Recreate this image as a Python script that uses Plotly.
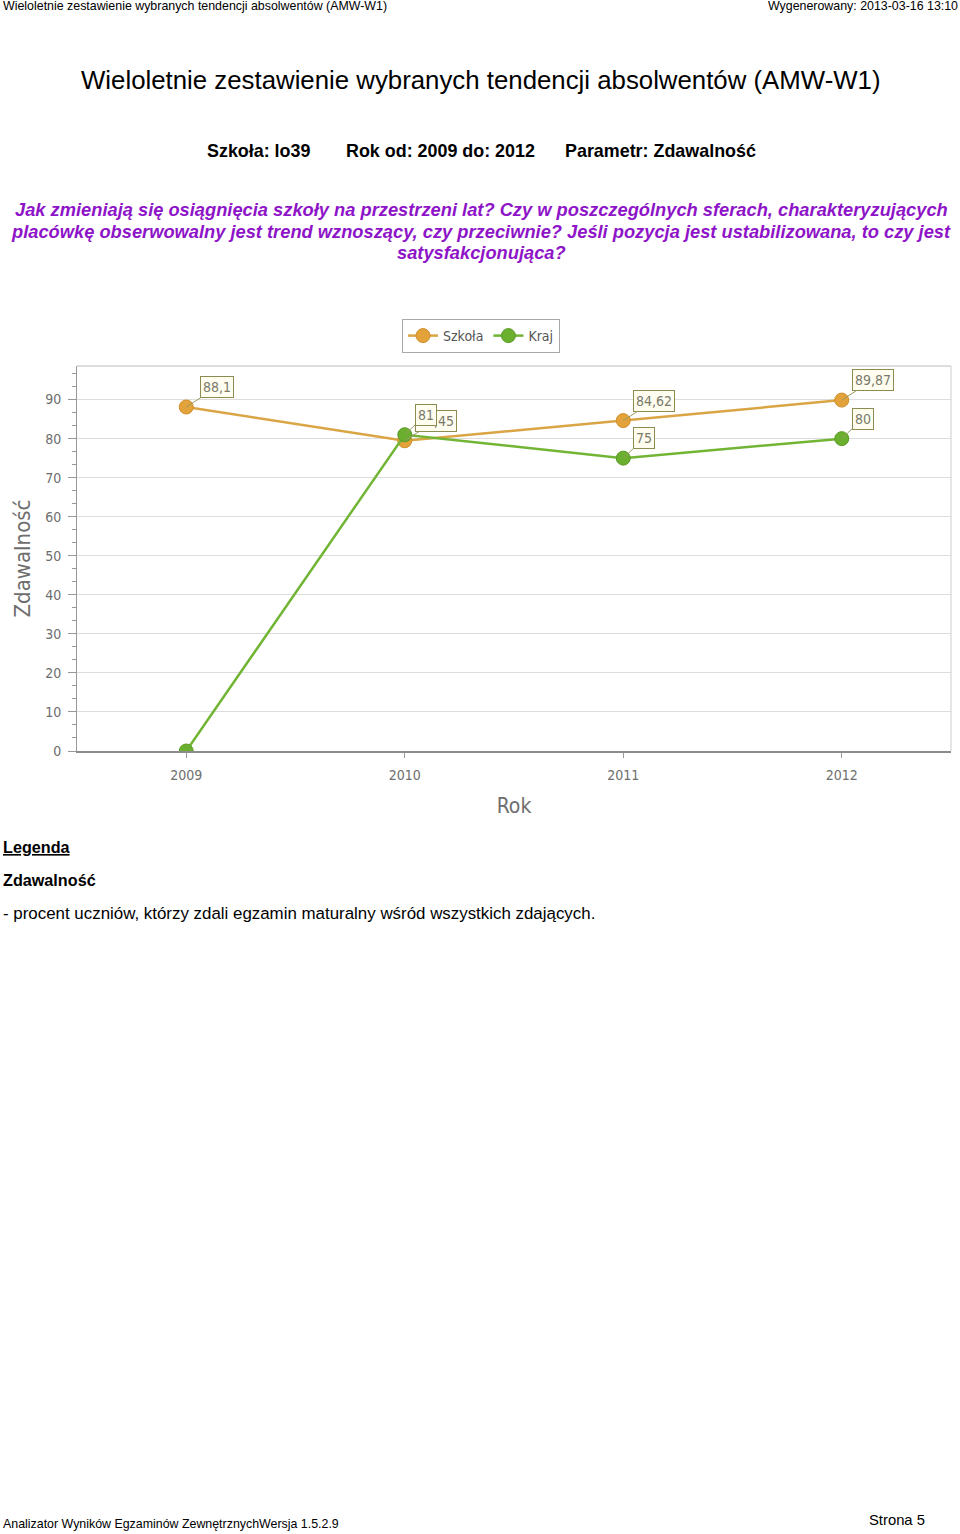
import plotly.graph_objects as go

years = [2009, 2010, 2011, 2012]
szkola = [88.1, 79.45, 84.62, 89.87]
kraj = [0, 81, 75, 80]
szkola_labels = ["88,1", "79,45", "84,62", "89,87"]
kraj_labels = ["", "81", "75", "80"]
y_ticks = [0, 10, 20, 30, 40, 50, 60, 70, 80, 90]

W, H = 960, 1534
def py(px):
    return 1 - px / H

ORANGE = "#E3A33A"
ORANGE_LINE = "#D9A545"
GREEN = "#6AAF2E"
GREEN_LINE = "#72B535"
GRAY = "#6E6E6E"

fig = go.Figure()
fig.add_trace(go.Scatter(x=years, y=szkola, name="Szkoła", mode="lines+markers",
                         line=dict(color=ORANGE_LINE, width=2.5),
                         marker=dict(color=ORANGE, size=14, line=dict(color="#D08E2A", width=1))))
fig.add_trace(go.Scatter(x=years, y=kraj, name="Kraj", mode="lines+markers",
                         line=dict(color=GREEN_LINE, width=2.5),
                         marker=dict(color=GREEN, size=14, line=dict(color="#5A9A25", width=1))))

ann = []
lab_font = dict(family="DejaVu Sans Condensed, DejaVu Sans", size=14, color="#7A7A6A")
def add_label(x, y, txt, ax):
    ann.append(dict(x=x, y=y, xref="x", yref="y", text=txt, showarrow=True,
                    arrowhead=0, arrowwidth=1, arrowcolor="#9A9A60", ax=ax, ay=-20,
                    bordercolor="#8C8C50", borderwidth=1, borderpad=2,
                    bgcolor="#FFFDF0", font=lab_font))

for x, y, t in zip(years, szkola, szkola_labels):
    add_label(x, y, t, 31)
for x, y, t in zip(years, kraj, kraj_labels):
    if t:
        add_label(x, y, t, 21)

def txt(x, y, text, size, color="black", xanchor="left", family="Liberation Sans, Arial", yanchor="middle"):
    ann.append(dict(x=x / W, y=py(y), xref="paper", yref="paper", text=text, showarrow=False,
                    xanchor=xanchor, yanchor=yanchor, font=dict(size=size, color=color, family=family)))

txt(1, 6, "Wieloletnie zestawienie wybranych tendencji absolwentów (AMW-W1)", 12.4)
txt(960, 6, "Wygenerowany: 2013-03-16 13:10", 12.4, xanchor="right")
txt(481, 80, "Wieloletnie zestawienie wybranych tendencji absolwentów (AMW-W1)", 25.8, xanchor="center")
txt(258, 151, "<b>Szkoła: lo39</b>", 17.9, xanchor="center")
txt(440, 151, "<b>Rok od: 2009 do: 2012</b>", 17.9, xanchor="center")
txt(660, 151, "<b>Parametr: Zdawalność</b>", 17.9, xanchor="center")
PURPLE = "#8E14C8"
txt(481, 210, "<b><i>Jak zmieniają się osiągnięcia szkoły na przestrzeni lat? Czy w poszczególnych sferach, charakteryzujących</i></b>", 18.3, PURPLE, "center")
txt(481, 231, "<b><i>placówkę obserwowalny jest trend wznoszący, czy przeciwnie? Jeśli pozycja jest ustabilizowana, to czy jest</i></b>", 18.3, PURPLE, "center")
txt(481, 252, "<b><i>satysfakcjonująca?</i></b>", 18.3, PURPLE, "center")
txt(1, 847, "<b><u>Legenda</u></b>", 16.2)
txt(1, 880, "<b>Zdawalność</b>", 16.2)
txt(1, 913, "- procent uczniów, którzy zdali egzamin maturalny wśród wszystkich zdających.", 16.9)
txt(1, 1524, "Analizator Wyników Egzaminów ZewnętrznychWersja 1.5.2.9", 12.4)
txt(897, 1520, "Strona 5", 14.8, xanchor="center")

fig.update_layout(
    width=W, height=H, margin=dict(l=0, r=0, t=0, b=0, autoexpand=False),
    paper_bgcolor="white", plot_bgcolor="white",
    annotations=ann,
    showlegend=True,
    legend=dict(orientation="h", x=481 / W, y=py(319), xanchor="center", yanchor="top",
                bordercolor="#A8A8A8", borderwidth=1, bgcolor="white",
                font=dict(family="DejaVu Sans Condensed, DejaVu Sans", size=14, color="#555"),
                itemwidth=30, tracegroupgap=0),
    xaxis=dict(domain=[77 / W, 951 / W], range=[2008.5, 2012.5], tickvals=years, automargin=False,
               ticks="outside", ticklen=5, tickcolor="#999", showgrid=False, ticklabelstandoff=5,
               showline=True, linecolor="#8C8C8C", linewidth=2, zeroline=False,
               tickfont=dict(family="DejaVu Sans Condensed, DejaVu Sans", size=14, color=GRAY),
               title=dict(text="Rok", font=dict(family="DejaVu Sans Condensed, DejaVu Sans", size=21, color=GRAY), standoff=17)),
    yaxis=dict(domain=[py(751), py(366)], range=[0, 98.6], tickvals=y_ticks, automargin=False,
               ticks="outside", ticklen=8, tickcolor="#999", ticklabelstandoff=4,
               showgrid=True, gridcolor="#DDDDDD", gridwidth=1,
               showline=True, linecolor="#999", linewidth=1, zeroline=False,
               minor=dict(dtick=10 / 3, tick0=0, ticks="outside", ticklen=4, tickcolor="#999", showgrid=False),
               tickfont=dict(family="DejaVu Sans Condensed, DejaVu Sans", size=14, color=GRAY),
               title=dict(text="Zdawalność", font=dict(family="DejaVu Sans Condensed, DejaVu Sans", size=22, color=GRAY), standoff=8)),
    shapes=[
        dict(type="line", xref="paper", yref="paper", x0=77 / W, x1=951 / W, y0=py(366), y1=py(366),
             line=dict(color="#DDDDDD", width=2)),
        dict(type="line", xref="paper", yref="paper", x0=951 / W, x1=951 / W, y0=py(366), y1=py(751),
             line=dict(color="#CCCCCC", width=1)),
    ],
)

fig.write_html("out.html", config={"displayModeBar": False},
               post_script="document.body.style.margin='0';document.body.style.overflow='hidden';")
